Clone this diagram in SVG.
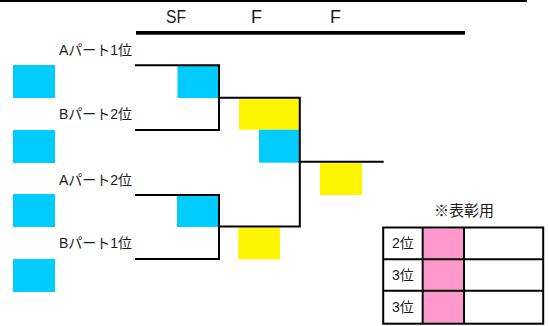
<svg xmlns="http://www.w3.org/2000/svg" width="549" height="326" viewBox="0 0 549 326">
<style>
text{font-family:"Liberation Sans","Noto Sans CJK JP",sans-serif;fill:#1a1a1a}
.lbl{font-size:14px}
.hdr{font-size:18px}
.c{fill:#00CCFF}
.y{fill:#FFF500}
.p{fill:#FF99CC}
.ln{stroke:#000;stroke-width:2;fill:none;stroke-linecap:square}
</style>
<rect width="549" height="326" fill="#fff"/>
<g id="header">
<rect x="0" y="0" width="527" height="2" fill="#000"/>
<text class="hdr" x="166" y="22.5" textLength="20" lengthAdjust="spacingAndGlyphs">SF</text>
<text class="hdr" x="251" y="22.5">F</text>
<text class="hdr" x="330" y="22.5">F</text>
<rect x="136" y="31" width="329" height="3.7" fill="#000"/>
</g>
<g id="seeds">
<g id="seed-a1"><text class="lbl" x="59" y="54.5">Aパート1位</text><rect class="c" x="13" y="65" width="42" height="33"/></g>
<g id="seed-b2"><text class="lbl" x="59" y="118.5">Bパート2位</text><rect class="c" x="13" y="130" width="42" height="33"/></g>
<g id="seed-a2"><text class="lbl" x="59" y="184.5">Aパート2位</text><rect class="c" x="13" y="194" width="42" height="33"/></g>
<g id="seed-b1"><text class="lbl" x="59" y="247.5">Bパート1位</text><rect class="c" x="13" y="259" width="42" height="33"/></g>
</g>
<g id="boxes">
<rect id="sf1" class="c" x="177.5" y="66" width="41" height="32"/>
<rect id="sf2" class="c" x="177" y="196" width="41.5" height="31"/>
<rect id="f1-top" class="y" x="239" y="98.7" width="60" height="31"/>
<rect id="f1-bot" class="c" x="259" y="129.7" width="40" height="33"/>
<rect id="f2" class="y" x="238.3" y="227.7" width="41.7" height="31.6"/>
<rect id="final" class="y" x="320" y="162.7" width="42" height="32.3"/>
</g>
<g id="connectors" class="ln">
<path d="M136 65.2H219V129.9H136"/>
<path d="M136 194.9H219V258.9H136"/>
<path d="M219 97.8H299.8V226.5H219"/>
<path d="M299.8 161.7H382.7"/>
</g>
<g id="award-table">
<text x="434" y="215.5" style="font-size:15px">※表彰用</text>
<rect class="p" x="423.7" y="228.5" width="39.3" height="94.3"/>
<rect x="383.2" y="227.5" width="160" height="96.2" fill="none" stroke="#000" stroke-width="2"/>
<path d="M422.7 227.5V323.7M464 227.5V323.7M383.2 259.2H543.2M383.2 290.8H543.2" stroke="#000" stroke-width="2"/>
<text class="lbl" x="392" y="248.3">2位</text>
<text class="lbl" x="392" y="280">3位</text>
<text class="lbl" x="392" y="311.7">3位</text>
</g>
</svg>
